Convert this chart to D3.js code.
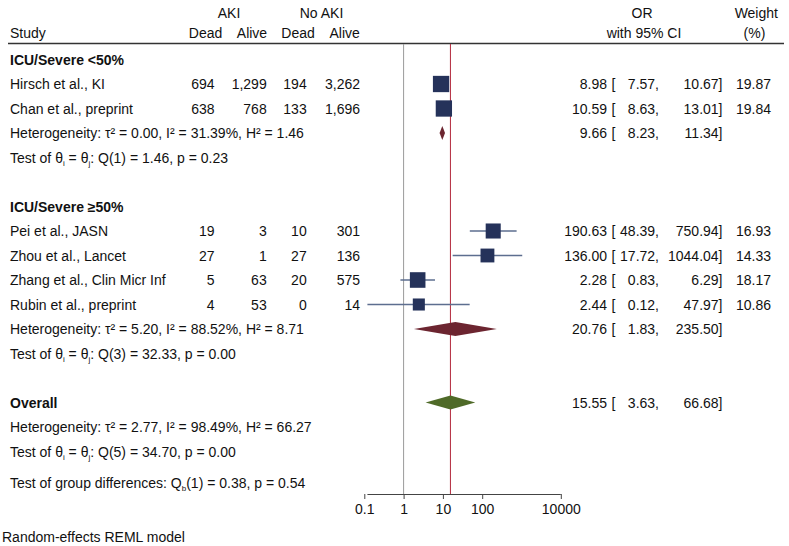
<!DOCTYPE html>
<html><head><meta charset="utf-8">
<script src="https://cdn.jsdelivr.net/npm/d3@7"></script>
<style>body{margin:0;background:#fff}svg{display:block}text{font-family:"Liberation Sans",Arial,Helvetica,sans-serif;font-size:14px;fill:#111}</style>
</head><body><svg id="c" width="789" height="546"></svg>
<script>
const studies = ["Hirsch et al., KI","Chan et al., preprint","Pei et al., JASN","Zhou et al., Lancet","Zhang et al., Clin Micr Inf","Rubin et al., preprint"];
const groups = [0,0,1,1,1,1];
const akiDead = ["694","638","19","27","5","4"];
const akiAlive = ["1,299","768","3","1","63","53"];
const noDead = ["194","133","10","27","20","0"];
const noAlive = ["3,262","1,696","301","136","575","14"];
const orEst = [8.98,10.59,190.63,136.00,2.28,2.44];
const orLo = [7.57,8.63,48.39,17.72,0.83,0.12];
const orHi = [10.67,13.01,750.94,1044.04,6.29,47.97];
const weights = [19.87,19.84,16.93,14.33,18.17,10.86];
const groupNames = ["ICU/Severe <50%","ICU/Severe \u226550%"];
const groupEst = [9.66,20.76];
const groupLo = [8.23,1.83];
const groupHi = [11.34,235.50];
const groupTau2 = ["0.00","5.20"], groupI2 = ["31.39","88.52"], groupH2 = ["1.46","8.71"];
const groupQdf = ["1","3"], groupQ = ["1.46","32.33"], groupP = ["0.23","0.00"];
const overall = {est:15.55, lo:3.63, hi:66.68, tau2:"2.77", i2:"98.49", h2:"66.27", qdf:"5", q:"34.70", p:"0.00"};
const groupDiff = {df:"1", q:"0.38", p:"0.54"};
const tickVals = [0.1,1,10,100,10000];
const tickLabels = ["0.1","1","10","100","10000"];

const svg = d3.select("#c");
const fmt = d3.format(".2f");
const x = d3.scaleLog().domain([0.1,10000]).range([364.3,560.8]);
const side = d3.scaleSqrt().domain([0,19.87]).range([0,16.3]);
const BO = 5; // baseline offset from row center

// row layout (centers)
const y0 = 59.5, step = 24.5;
const rowY = k => y0 + k*step;
const rows = [];
let k = 0;
[0,1].forEach(g=>{
  rows.push({type:"ghead", g, y:rowY(k++)});
  studies.forEach((s,i)=>{ if(groups[i]===g) rows.push({type:"study", i, y:rowY(k++)}); });
  rows.push({type:"gsum", g, y:rowY(k++)});
  rows.push({type:"gtest", g, y:rowY(k++)});
  k++;
});
rows.push({type:"ohead", y:rowY(k++)});
rows.push({type:"ohet", y:rowY(k++)});
rows.push({type:"otest", y:rowY(k++)});
const diffY = rowY(k) + 7;
const axisY = 494;

const T = (xx,yy,str,anchor="start",bold=false)=> svg.append("text").attr("x",xx).attr("y",yy+BO)
  .attr("text-anchor",anchor).style("font-weight",bold?"bold":null).text(str);

// header
T(229,13,"AKI","middle"); T(321.5,13,"No AKI","middle");
T(10,33,"Study"); T(205.5,33,"Dead","middle"); T(252,33,"Alive","middle"); T(298,33,"Dead","middle"); T(344.7,33,"Alive","middle");
T(642,13,"OR","middle"); T(644,33,"with 95% CI","middle");
T(756.3,13,"Weight","middle"); T(754.5,33,"(%)","middle");
svg.append("line").attr("x1",8).attr("x2",784).attr("y1",43.5).attr("y2",43.5).attr("stroke","#333").attr("stroke-width",1.4);

// reference lines
svg.append("line").attr("x1",x(1)).attr("x2",x(1)).attr("y1",44).attr("y2",axisY).attr("stroke","#9a9a9a").attr("stroke-width",1);
svg.append("line").attr("x1",x(overall.est)).attr("x2",x(overall.est)).attr("y1",44).attr("y2",axisY).attr("stroke","#b3283c").attr("stroke-width",1);

function ciText(yy, est, lo, hi, w){
  T(607,yy,fmt(est),"end");
  T(611.5,yy,"[");
  T(659,yy,fmt(lo)+",","end");
  T(722.5,yy,fmt(hi)+"]","end");
  if(w!=null) T(771,yy,fmt(w),"end");
}
function hetText(yy, tau2, i2, h2){
  svg.append("text").attr("x",10).attr("y",yy+BO)
    .text("Heterogeneity: \u03c4\u00b2 = "+tau2+", I\u00b2 = "+i2+"%, H\u00b2 = "+h2);
}
function testText(yy, df, q, p){
  const t = svg.append("text").attr("x",10).attr("y",yy+BO);
  t.append("tspan").text("Test of \u03b8");
  t.append("tspan").attr("dy",3).style("font-size","8px").text("i");
  t.append("tspan").attr("dy",-3).text(" = \u03b8");
  t.append("tspan").attr("dy",3).style("font-size","8px").text("j");
  t.append("tspan").attr("dy",-3).text(": Q("+df+") = "+q+", p = "+p);
}
function diamond(yy, lo, est, hi, h, color){
  svg.append("path").attr("d",`M${x(lo)},${yy}L${x(est)},${yy-h/2}L${x(hi)},${yy}L${x(est)},${yy+h/2}Z`).attr("fill",color);
}

rows.forEach(r=>{
  if(r.type==="ghead") T(10,r.y,groupNames[r.g],"start",true);
  else if(r.type==="study"){
    const i=r.i;
    T(10,r.y,studies[i]);
    T(214.5,r.y,akiDead[i],"end"); T(266.7,r.y,akiAlive[i],"end");
    T(306.7,r.y,noDead[i],"end"); T(360,r.y,noAlive[i],"end");
    svg.append("line").attr("x1",x(orLo[i])).attr("x2",x(orHi[i])).attr("y1",r.y).attr("y2",r.y).attr("stroke","#5d6e8f").attr("stroke-width",1.3);
    const s = side(weights[i]);
    svg.append("rect").attr("x",x(orEst[i])-s/2).attr("y",r.y-s/2).attr("width",s).attr("height",s).attr("fill","#25325a");
    ciText(r.y, orEst[i], orLo[i], orHi[i], weights[i]);
  } else if(r.type==="gsum"){
    hetText(r.y, groupTau2[r.g], groupI2[r.g], groupH2[r.g]);
    diamond(r.y, groupLo[r.g], groupEst[r.g], groupHi[r.g], 14, "#6c2530");
    ciText(r.y, groupEst[r.g], groupLo[r.g], groupHi[r.g], null);
  } else if(r.type==="gtest") testText(r.y, groupQdf[r.g], groupQ[r.g], groupP[r.g]);
  else if(r.type==="ohead"){
    T(10,r.y,"Overall","start",true);
    diamond(r.y, overall.lo, overall.est, overall.hi, 14, "#4f6a28");
    ciText(r.y, overall.est, overall.lo, overall.hi, null);
  } else if(r.type==="ohet") hetText(r.y, overall.tau2, overall.i2, overall.h2);
  else if(r.type==="otest") testText(r.y, overall.qdf, overall.q, overall.p);
});

// group differences
{
  const t = svg.append("text").attr("x",10).attr("y",diffY+BO);
  t.append("tspan").text("Test of group differences: Q");
  t.append("tspan").attr("dy",3).style("font-size","8px").text("b");
  t.append("tspan").attr("dy",-3).text("("+groupDiff.df+") = "+groupDiff.q+", p = "+groupDiff.p);
}

// axis
const ax = svg.append("g").attr("transform",`translate(0,${axisY})`)
  .call(d3.axisBottom(x).tickValues(tickVals).tickFormat((d,i)=>tickLabels[i]).tickSize(5).tickPadding(5));
ax.select(".domain").remove();
ax.selectAll(".tick line").attr("stroke","#444");
ax.selectAll(".tick text").style("font-size","14px").style("font-family",'"Liberation Sans",Arial,sans-serif').attr("fill","#111");
ax.append("line").attr("x1",x(d3.min(orLo))).attr("x2",x(10000)).attr("y1",0.5).attr("y2",0.5).attr("stroke","#444");

T(2,537,"Random-effects REML model");
</script></body></html>
